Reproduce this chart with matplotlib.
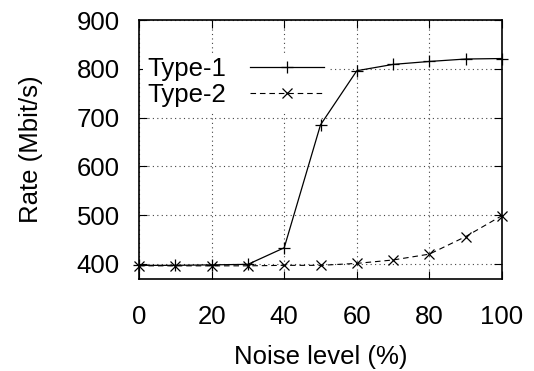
import matplotlib
matplotlib.use("Agg")
import matplotlib.pyplot as plt

plt.rcParams['font.family'] = ['Liberation Sans', 'DejaVu Sans']

noise = [0, 10, 20, 30, 40, 50, 60, 70, 80, 90, 100]
type1 = [397, 397, 398, 399, 433, 685, 796, 809, 815, 820, 821]
type2 = [396, 396, 396, 396, 397, 397, 401, 408, 420, 456, 499]

fig = plt.figure(figsize=(5.34, 3.71), dpi=100)
ax = fig.add_axes([139/534, 1-279/371, (502-139)/534, (279-20)/371])

ax.plot(noise, type1, color='black', lw=0.9, marker='+', ms=9, mew=0.9,
        label='Type-1', clip_on=False, zorder=3)
ax.plot(noise, type2, color='black', lw=0.8, ls=(0, (5, 3.5)), marker='x', ms=7, mew=0.9,
        label='Type-2', clip_on=False, zorder=3)

ax.set_xlim(0, 100)
ax.set_ylim(369, 900)
ax.set_xticks(range(0, 101, 20))
ax.set_yticks(range(400, 901, 100))
ax.grid(True, color='#444444', ls=(0, (1, 3)), lw=0.8)
ax.tick_params(direction='in', top=True, right=True, length=6, labelsize=18.5)
ax.tick_params(axis='x', pad=19)
ax.tick_params(axis='y', pad=14)
for s in ax.spines.values():
    s.set_linewidth(1.2)
    s.set_zorder(4)

ax.set_xlabel('Noise level (%)', fontsize=18.5, labelpad=11)
ax.set_ylabel('Rate (Mbit/s)', fontsize=18.5, labelpad=24)

leg = ax.legend(loc='upper left', bbox_to_anchor=(-0.024, 0.92), markerfirst=False,
                fontsize=18.5, frameon=True, handlelength=2.9, borderpad=0.15,
                labelspacing=0.05, handletextpad=0.93, fancybox=False)
leg.get_frame().set_edgecolor('none')
leg.get_frame().set_facecolor('white')
leg.get_frame().set_alpha(1)
leg.set_zorder(2)

fig.savefig('out.png', dpi=100)
